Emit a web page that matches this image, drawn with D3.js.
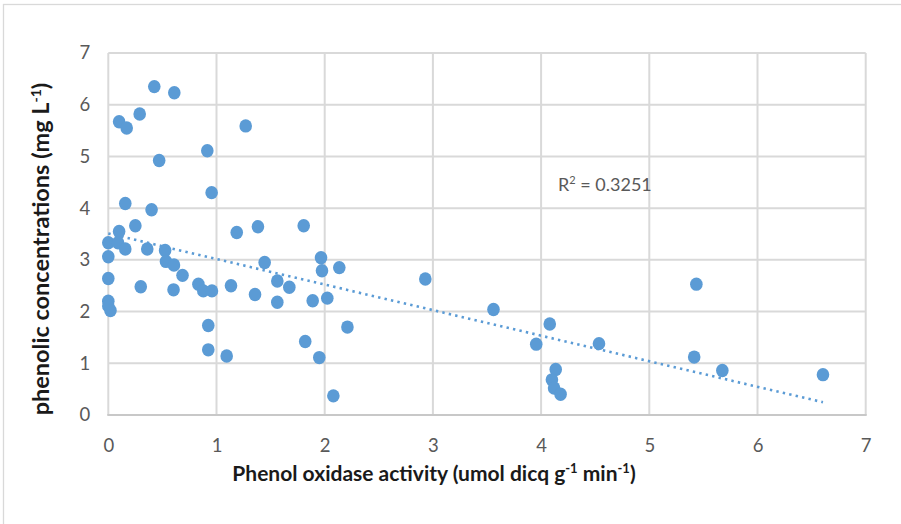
<!DOCTYPE html>
<html>
<head>
<meta charset="utf-8">
<script src="https://cdn.jsdelivr.net/npm/d3@7"></script>
<style>
  html, body { margin: 0; padding: 0; background: #fff; }
  svg { display: block; }
</style>
</head>
<body>
<svg id="chart" width="901" height="524"></svg>
<script>
// Phenol oxidase activity (x) against phenolic concentration (y)
const activity = [
  0.425, 0.61, 0.29, 0.10, 0.17, 1.27, 0.915, 0.47, 0.955, 0.157,
  0.40, 0.25, 0.10, 1.187, 1.383, 1.806, 0.0, 0.09, 0.157, 0.36,
  0.0, 0.525, 0.533, 0.607, 0.686, 0.0, 0.30, 0.603, 0.833, 0.878,
  0.958, 1.134, 1.356, 1.445, 1.562, 1.673, 1.562, 1.966, 1.975, 2.135,
  1.889, 2.024, 0.0, 0.0, 0.02, 0.924, 0.924, 1.094, 1.82, 1.95,
  2.21, 2.08, 2.93, 3.56, 4.08, 3.955, 4.535, 4.135, 4.10, 4.12,
  4.18, 5.435, 5.415, 5.675, 6.605
];
const phenolics = [
  6.35, 6.23, 5.82, 5.67, 5.55, 5.59, 5.11, 4.92, 4.30, 4.09,
  3.97, 3.66, 3.55, 3.53, 3.64, 3.66, 3.33, 3.33, 3.21, 3.21,
  3.06, 3.18, 2.97, 2.90, 2.70, 2.64, 2.48, 2.42, 2.53, 2.40,
  2.40, 2.50, 2.33, 2.95, 2.59, 2.47, 2.18, 3.04, 2.79, 2.85,
  2.21, 2.26, 2.20, 2.11, 2.02, 1.73, 1.26, 1.14, 1.42, 1.11,
  1.70, 0.37, 2.63, 2.04, 1.76, 1.37, 1.38, 0.88, 0.68, 0.52,
  0.40, 2.53, 1.12, 0.86, 0.78
];
const xTicks = [0, 1, 2, 3, 4, 5, 6, 7];
const yTicks = [0, 1, 2, 3, 4, 5, 6, 7];
// Linear trendline coefficients (y = intercept + slope * x) and its R²
const trendIntercept = 3.51;
const trendSlope = -0.494;
const rSquaredText = "0.3251";

const points = activity.map((a, i) => ({ x: a, y: phenolics[i] }));

const svg = d3.select("#chart");
const W = 901, H = 524;
const plot = { left: 108.3, right: 865.7, top: 53, bottom: 415 };

const x = d3.scaleLinear().domain([0, 7]).range([plot.left, plot.right]);
const y = d3.scaleLinear().domain([0, 7]).range([plot.bottom, plot.top]);

const gridColor = "#d9d9d9";
const textColor = "#595959";
const dotColor = "#5b9bd5";
const font = "Lato, 'Open Sans', sans-serif";

// Outer chart frame
svg.append("rect")
  .attr("x", 3.5).attr("y", 4.5)
  .attr("width", W + 20).attr("height", H + 20)
  .attr("fill", "#fff")
  .attr("stroke", "#d9d9d9")
  .attr("stroke-width", 1.3);

// Gridlines
const grid = svg.append("g");
grid.selectAll("line.h")
  .data(yTicks)
  .join("line")
  .attr("x1", plot.left).attr("x2", plot.right)
  .attr("y1", d => y(d)).attr("y2", d => y(d))
  .attr("stroke", gridColor).attr("stroke-width", 2);
grid.selectAll("line.v")
  .data(xTicks)
  .join("line")
  .attr("class", "v")
  .attr("y1", plot.top).attr("y2", plot.bottom)
  .attr("x1", d => x(d)).attr("x2", d => x(d))
  .attr("stroke", gridColor).attr("stroke-width", 2);

// Bottom axis line
svg.append("line")
  .attr("x1", plot.left - 1).attr("x2", plot.right + 1)
  .attr("y1", y(0)).attr("y2", y(0))
  .attr("stroke", "#c8c8c8").attr("stroke-width", 2);

// Tick labels
const xAxis = d3.axisBottom(x).tickValues(xTicks).tickSize(0).tickPadding(0).tickFormat(d3.format("d"));
const gx = svg.append("g").attr("transform", `translate(0,${plot.bottom + 25})`).call(xAxis);
gx.select(".domain").remove();
gx.selectAll("text")
  .attr("dy", "0.35em").attr("y", 6)
  .attr("fill", textColor)
  .style("font-family", font).style("font-size", "18.5px");

const yAxis = d3.axisLeft(y).tickValues(yTicks).tickSize(0).tickPadding(0).tickFormat(d3.format("d"));
const gy = svg.append("g").attr("transform", `translate(${plot.left - 18},0)`).call(yAxis);
gy.select(".domain").remove();
gy.selectAll("text")
  .attr("fill", textColor)
  .style("font-family", font).style("font-size", "18.5px");

// Points
svg.append("g")
  .selectAll("ellipse")
  .data(points)
  .join("ellipse")
  .attr("cx", d => x(d.x))
  .attr("cy", d => y(d.y))
  .attr("rx", 6.3).attr("ry", 6.7)
  .attr("fill", dotColor);

// Trendline across the observed range
const xMin = d3.min(activity), xMax = d3.max(activity);
svg.append("line")
  .attr("x1", x(xMin)).attr("y1", y(trendIntercept + trendSlope * xMin))
  .attr("x2", x(xMax)).attr("y2", y(trendIntercept + trendSlope * xMax))
  .attr("stroke", dotColor)
  .attr("stroke-width", 2.6)
  .attr("stroke-dasharray", "2.4 4.2");

// R² annotation
const r2 = svg.append("text")
  .attr("x", 558).attr("y", 191)
  .attr("fill", textColor)
  .style("font-family", font).style("font-size", "18px");
r2.append("tspan").text("R");
r2.append("tspan").attr("dy", -7).style("font-size", "11px").text("2");
r2.append("tspan").attr("dy", 7).text(" = " + rSquaredText);

// Axis titles
const xt = svg.append("text")
  .attr("x", 434).attr("y", 481)
  .attr("text-anchor", "middle")
  .attr("fill", "#1a1a1a")
  .style("font-family", font).style("font-size", "21px").style("font-weight", "bold");
xt.append("tspan").text("Phenol oxidase activity (umol dicq g");
xt.append("tspan").attr("dy", -8).style("font-size", "13px").text("-1");
xt.append("tspan").attr("dy", 8).text(" min");
xt.append("tspan").attr("dy", -8).style("font-size", "13px").text("-1");
xt.append("tspan").attr("dy", 8).text(")");

const yt = svg.append("text")
  .attr("transform", `translate(49,249) rotate(-90)`)
  .attr("text-anchor", "middle")
  .attr("fill", "#1a1a1a")
  .style("font-family", font).style("font-size", "23.5px").style("font-weight", "bold");
yt.append("tspan").text("phenolic concentrations (mg L");
yt.append("tspan").attr("dy", -8).style("font-size", "14px").text("-1");
yt.append("tspan").attr("dy", 8).text(")");
</script>
</body>
</html>
